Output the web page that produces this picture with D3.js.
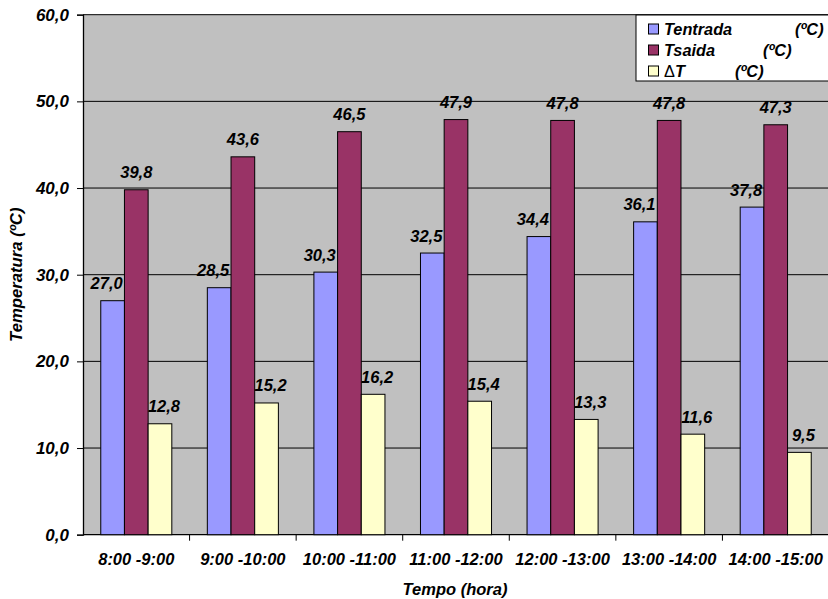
<!DOCTYPE html>
<html>
<head>
<meta charset="utf-8">
<script src="https://cdn.jsdelivr.net/npm/d3@7"></script>
<style>
  html, body { margin: 0; padding: 0; background: #fff; }
  svg { display: block; }
  text { font-family: "Liberation Sans", Arial, sans-serif; font-weight: bold; font-style: italic; fill: #000; }
</style>
</head>
<body>
<svg id="chart" width="828" height="599"></svg>
<script>
// Hourly water temperatures: inlet, outlet and their difference
const categories = ["8:00 -9:00", "9:00 -10:00", "10:00 -11:00", "11:00 -12:00", "12:00 -13:00", "13:00 -14:00", "14:00 -15:00"];
const tEntrada = [27.0, 28.5, 30.3, 32.5, 34.4, 36.1, 37.8];
const tSaida   = [39.8, 43.6, 46.5, 47.9, 47.8, 47.8, 47.3];
const deltaT   = [12.8, 15.2, 16.2, 15.4, 13.3, 11.6, 9.5];
const seriesNames = ["Tentrada", "Tsaida", "T"];
const yTicks = [0, 10, 20, 30, 40, 50, 60];

const series = [
  { key: "entrada", values: tEntrada, color: "#9999FF", labelDx: -6 },
  { key: "saida",   values: tSaida,   color: "#993366", labelDx: 0 },
  { key: "delta",   values: deltaT,   color: "#FFFFCC", labelDx: 4 }
];

const FS = 16.5;

const svg = d3.select("#chart");
const margin = { left: 83, right: -1, top: 14.7, bottom: 64.3 };
const W = 828, H = 599;
const plotW = W - margin.left - margin.right;
const plotH = H - margin.top - margin.bottom;

const g = svg.append("g").attr("transform", `translate(${margin.left},${margin.top})`);

const x0 = d3.scaleBand().domain(categories).range([0, plotW]).paddingInner(1/3).paddingOuter(1/6);
const xCat = d3.scaleBand().domain(categories).range([0, plotW]);
const x1 = d3.scaleBand().domain(series.map(s => s.key)).range([0, x0.bandwidth()]);
const y = d3.scaleLinear().domain([0, 60]).range([plotH, 0]);

const fmt = v => d3.format(".1f")(v).replace(".", ",");

// plot background
g.append("rect").attr("x", 0).attr("y", 0).attr("width", plotW).attr("height", plotH).attr("fill", "#C0C0C0");

// horizontal gridlines
g.selectAll("line.grid").data(yTicks.filter(t => t > 0)).enter().append("line")
  .attr("x1", 0).attr("x2", plotW)
  .attr("y1", d => y(d)).attr("y2", d => y(d))
  .attr("stroke", "#000").attr("stroke-width", 1);

// y axis
const yAxis = d3.axisLeft(y).tickValues(yTicks).tickFormat(fmt).tickSize(6).tickPadding(8);
const yG = g.append("g").call(yAxis);
yG.select(".domain").attr("stroke", "#000").attr("stroke-width", 1.3);
yG.selectAll(".tick line").attr("stroke", "#000");
yG.selectAll(".tick text").attr("font-size", FS + 0.5).attr("font-family", "Liberation Sans, Arial, sans-serif")
  .attr("font-weight", "bold").attr("font-style", "italic").attr("fill", "#000");

// x axis: ticks at category boundaries
const xG = g.append("g").attr("transform", `translate(0,${plotH})`);
xG.append("line").attr("x1", 0).attr("x2", plotW).attr("y1", 0).attr("y2", 0).attr("stroke", "#000").attr("stroke-width", 1.3);
xG.selectAll("line.tk").data(categories).enter().append("line")
  .attr("x1", d => xCat(d) + xCat.bandwidth()).attr("x2", d => xCat(d) + xCat.bandwidth())
  .attr("y1", 0).attr("y2", 6).attr("stroke", "#000");
xG.selectAll("text.cat").data(categories).enter().append("text")
  .attr("x", d => xCat(d) + xCat.bandwidth() / 2)
  .attr("y", 30)
  .attr("text-anchor", "middle").attr("font-size", FS).text(d => d);

// bars
const groups = g.selectAll("g.grp").data(categories).enter().append("g")
  .attr("transform", d => `translate(${x0(d)},0)`);

series.forEach(s => {
  groups.append("rect")
    .attr("x", x1(s.key))
    .attr("width", x1.bandwidth())
    .attr("y", (d, i) => y(s.values[i]))
    .attr("height", (d, i) => plotH - y(s.values[i]))
    .attr("fill", s.color).attr("stroke", "#000").attr("stroke-width", 1);
  groups.append("text")
    .attr("x", x1(s.key) + x1.bandwidth() / 2 + s.labelDx)
    .attr("y", (d, i) => y(s.values[i]) - 11.5)
    .attr("text-anchor", "middle").attr("font-size", FS)
    .text((d, i) => fmt(s.values[i]));
});

// axis titles
svg.append("text")
  .attr("transform", `translate(22,${margin.top + plotH / 2}) rotate(-90)`)
  .attr("text-anchor", "middle").attr("font-size", FS + 0.2).text("Temperatura (ºC)");
svg.append("text")
  .attr("x", margin.left + plotW / 2 - 1).attr("y", 595)
  .attr("text-anchor", "middle").attr("font-size", FS).text("Tempo (hora)");

// legend
const leg = svg.append("g").attr("transform", "translate(636,15)");
leg.append("rect").attr("x", 0).attr("y", 0).attr("width", 200).attr("height", 66)
  .attr("fill", "#fff").attr("stroke", "#000").attr("stroke-width", 1);
const unitX = [159, 127, 99];
series.forEach((s, i) => {
  const cy = 14 + i * 21;
  leg.append("rect").attr("x", 12.5).attr("y", cy - 5).attr("width", 10).attr("height", 10)
    .attr("fill", s.color).attr("stroke", "#000").attr("stroke-width", 1);
  const t = leg.append("text").attr("x", 28).attr("y", cy + 6).attr("font-size", 16.3);
  if (s.key === "delta") {
    t.append("tspan").attr("font-style", "normal").attr("font-weight", "normal").text("Δ");
  }
  t.append("tspan").text(seriesNames[i]);
  leg.append("text").attr("x", unitX[i]).attr("y", cy + 6).attr("font-size", 16.3).text("(ºC)");
});
</script>
</body>
</html>
